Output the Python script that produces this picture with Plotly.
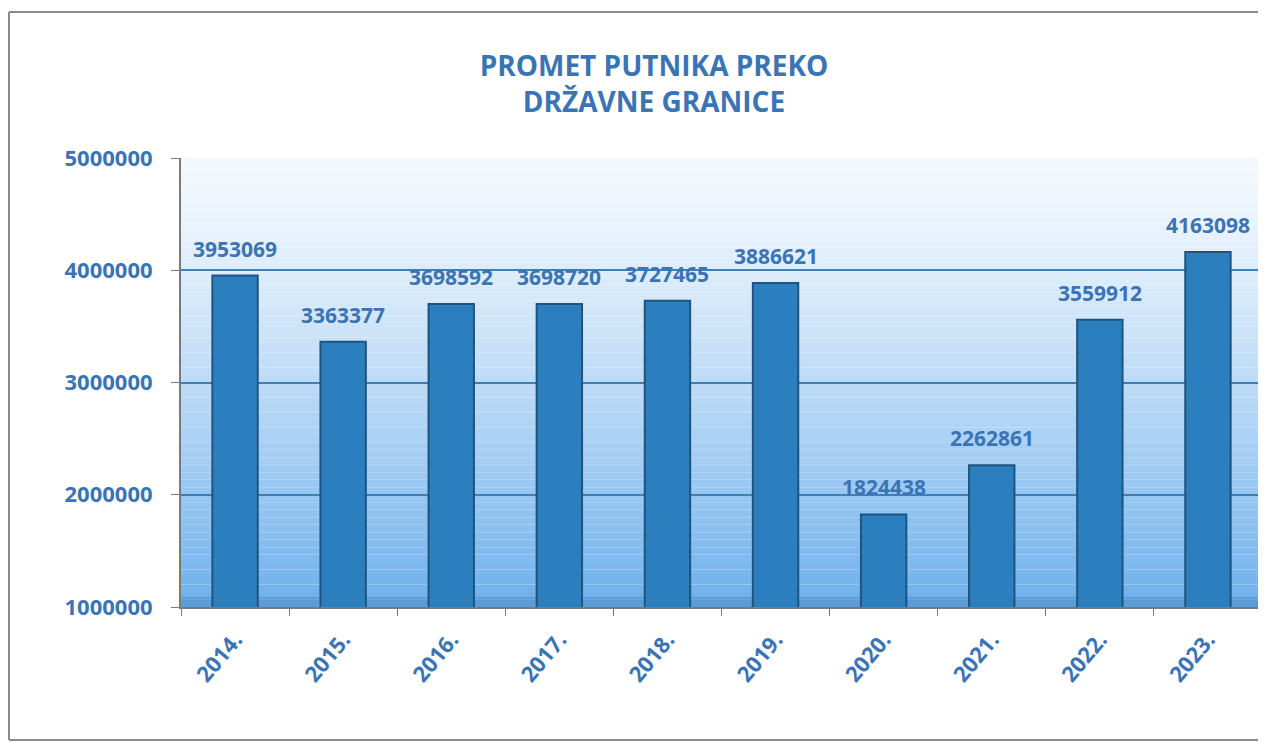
import plotly.graph_objects as go

years = ["2014.", "2015.", "2016.", "2017.", "2018.", "2019.", "2020.", "2021.", "2022.", "2023."]
passengers = [3953069, 3363377, 3698592, 3698720, 3727465, 3886621, 1824438, 2262861, 3559912, 4163098]
y_ticks = [1000000, 2000000, 3000000, 4000000, 5000000]

BLUE_TXT = "#3b74b4"
FONT = "Open Sans"

W, H = 1258, 735
L, R, T, B = 173, 4, 150, 136
PW, PH = W - L - R, H - T - B

fig = go.Figure()
fig.add_trace(go.Bar(
    x=years, y=passengers,
    width=0.42,
    marker=dict(color="#2b7fbf", line=dict(color="#1d5580", width=2)),
    hoverinfo="x+y",
))

# value labels (category index positions, since "2014." looks numeric)
annotations = []
for i, v in enumerate(passengers):
    annotations.append(dict(
        x=i, y=v, xref="x", yref="y", text=str(v), showarrow=False,
        yanchor="bottom", yshift=11,
        font=dict(family=FONT, size=21, color=BLUE_TXT, weight="bold"),
    ))

# gradient background for plot area
shapes = []
N = 60
top = (244, 249, 254)
bot = (110, 176, 236)
for i in range(N):
    t0 = i / N
    t1 = (i + 1) / N
    f = ((i + 0.5) / N) ** 1.3
    c = tuple(int(top[k] + (bot[k] - top[k]) * f) for k in range(3))
    shapes.append(dict(type="rect", xref="x domain", yref="y domain",
                       x0=0, x1=1, y0=1 - t1, y1=1 - t0,
                       fillcolor="rgb(%d,%d,%d)" % c, line=dict(width=0), layer="below"))
# darker floor strip
shapes.append(dict(type="rect", xref="x domain", yref="y domain",
                   x0=0, x1=1, y0=0, y1=10 / PH,
                   fillcolor="rgba(70,130,190,0.45)", line=dict(width=0), layer="below"))
# outer frame (left, top, bottom edges; right edge lies outside the picture)
fx0 = (1 - L) / PW
fx1 = (W - L) / PW
fy0 = -(H - 3 - (T + PH)) / PH
fy1 = (T + PH - 4) / PH
frame_line = dict(color="#8a8a8a", width=2)
shapes.append(dict(type="line", xref="paper", yref="paper", x0=fx0, x1=fx0, y0=fy0, y1=fy1, line=frame_line))
shapes.append(dict(type="line", xref="paper", yref="paper", x0=fx0, x1=fx1, y0=fy1, y1=fy1, line=frame_line))
shapes.append(dict(type="line", xref="paper", yref="paper", x0=fx0, x1=fx1, y0=fy0, y1=fy0, line=frame_line))

fig.update_layout(
    width=W, height=H,
    margin=dict(l=L, r=R, t=T, b=B),
    paper_bgcolor="white",
    plot_bgcolor="rgba(0,0,0,0)",
    showlegend=False,
    shapes=shapes,
    annotations=annotations,
    title=dict(
        text="PROMET PUTNIKA PREKO<br>DRŽAVNE GRANICE",
        x=646 / W, xanchor="center", y=1 - 68 / H, yanchor="top",
        font=dict(family=FONT, size=28, color=BLUE_TXT, weight="bold"),
    ),
)
fig.update_yaxes(
    range=[1000000, 5000000],
    tickvals=y_ticks, ticktext=[str(v) for v in y_ticks],
    tickfont=dict(family=FONT, size=22, color=BLUE_TXT, weight="bold"),
    ticklabelstandoff=14,
    showgrid=True, gridcolor="#3f7fb3", gridwidth=2,
    showline=True, linecolor="#7a7a7a", linewidth=2,
    ticks="outside", ticklen=8, tickcolor="#7a7a7a",
    zeroline=False,
)
fig.update_xaxes(
    type="category",
    tickangle=-50,
    tickfont=dict(family=FONT, size=22, color=BLUE_TXT, weight="bold"),
    ticklabelstandoff=9,
    showline=True, linecolor="#7a7a7a", linewidth=2,
    ticks="outside", ticklen=7, tickcolor="#7a7a7a", tickson="boundaries",
    showgrid=False,
)

fig.write_html("out.html")
